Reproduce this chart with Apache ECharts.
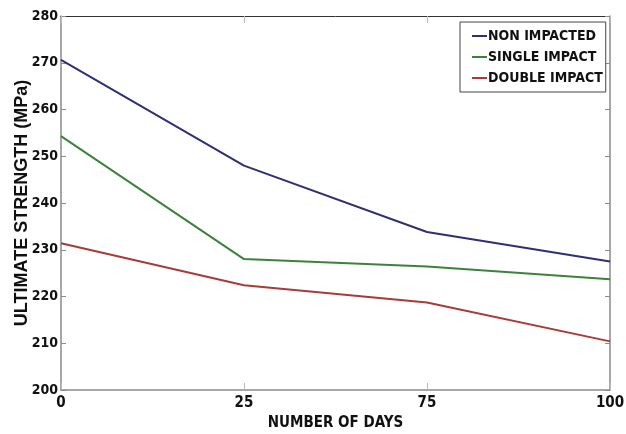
<!DOCTYPE html>
<html>
<head>
<meta charset="utf-8">
<script src="https://cdn.jsdelivr.net/npm/echarts@6/dist/echarts.min.js"></script>
<style>
  html, body { margin: 0; padding: 0; background: #fff; }
  #main { width: 626px; height: 434px; }
</style>
</head>
<body>
<div id="main"></div>
<script>
const days = ["0", "25", "75", "100"]
const nonImpacted = [270.6, 248.0, 233.8, 227.5]
const singleImpact = [254.3, 228.0, 226.4, 223.7]
const doubleImpact = [231.4, 222.4, 218.7, 210.4]

const narrow = "'DejaVu Sans Condensed', 'Liberation Sans Narrow', sans-serif"
const axisGrey = "#8a8a8a"

const chart = echarts.init(document.getElementById("main"))

const lineSeries = (name, values, color) => ({
  name: name,
  type: "line",
  data: values,
  showSymbol: false,
  symbol: "none",
  lineStyle: { color: color, width: 2 },
  itemStyle: { color: color },
  animation: false,
})

const option = {
  backgroundColor: "#fff",
  grid: { left: 61, right: 16, top: 16, bottom: 44, outerBoundsMode: "none" },
  legend: {
    orient: "vertical",
    left: 460,
    top: 22,
    padding: [7, 3, 7, 12],
    itemGap: 7,
    itemWidth: 15,
    itemHeight: 2,
    icon: "rect",
    borderColor: "#444",
    borderWidth: 1,
    backgroundColor: "#fff",
    textStyle: {
      fontFamily: narrow,
      fontWeight: "bold",
      fontSize: 14,
      color: "#111",
      padding: [0, 0, 0, -4],
    },
    data: ["NON IMPACTED", "SINGLE IMPACT", "DOUBLE IMPACT"],
  },
  xAxis: [
    {
      type: "category",
      data: days,
      boundaryGap: false,
      name: "NUMBER OF DAYS",
      nameLocation: "middle",
      nameGap: 26,
      nameMoveOverlap: false,
      nameTextStyle: { fontFamily: narrow, fontWeight: "bold", fontSize: 15, color: "#111" },
      axisLine: { lineStyle: { color: axisGrey, width: 1.5 } },
      axisTick: { inside: true, length: 7, lineStyle: { color: "#bbb" } },
      axisLabel: { margin: 6, fontFamily: narrow, fontWeight: "bold", fontSize: 15, color: "#111" },
      splitLine: { show: false },
    },
    {
      type: "category",
      data: days,
      boundaryGap: false,
      position: "top",
      axisLine: { lineStyle: { color: "#333", width: 1 } },
      axisTick: { inside: true, length: 7, lineStyle: { color: "#bbb" } },
      axisLabel: { show: false },
      splitLine: { show: false },
    },
  ],
  yAxis: [
    {
      type: "value",
      min: 200,
      max: 280,
      interval: 10,
      name: "ULTIMATE STRENGTH (MPa)",
      nameLocation: "middle",
      nameGap: 30,
      nameMoveOverlap: false,
      nameTextStyle: { fontFamily: "'Liberation Sans', Arial, sans-serif", fontWeight: "bold", fontSize: 18, color: "#111" },
      axisLine: { show: true, lineStyle: { color: axisGrey, width: 1.5 } },
      axisTick: { show: true, inside: true, length: 5, lineStyle: { color: axisGrey } },
      axisLabel: { margin: 3, fontFamily: narrow, fontWeight: "bold", fontSize: 14, color: "#111" },
      splitLine: { show: false },
    },
    {
      type: "value",
      min: 200,
      max: 280,
      interval: 10,
      position: "right",
      axisLine: { show: true, lineStyle: { color: axisGrey, width: 1.5 } },
      axisTick: { show: true, inside: true, length: 5, lineStyle: { color: axisGrey } },
      axisLabel: { show: false },
      splitLine: { show: false },
    },
  ],
  series: [
    lineSeries("NON IMPACTED", nonImpacted, "#2f2f72"),
    lineSeries("SINGLE IMPACT", singleImpact, "#3b833b"),
    lineSeries("DOUBLE IMPACT", doubleImpact, "#a83a3a"),
  ],
}

chart.setOption(option)
</script>
</body>
</html>
